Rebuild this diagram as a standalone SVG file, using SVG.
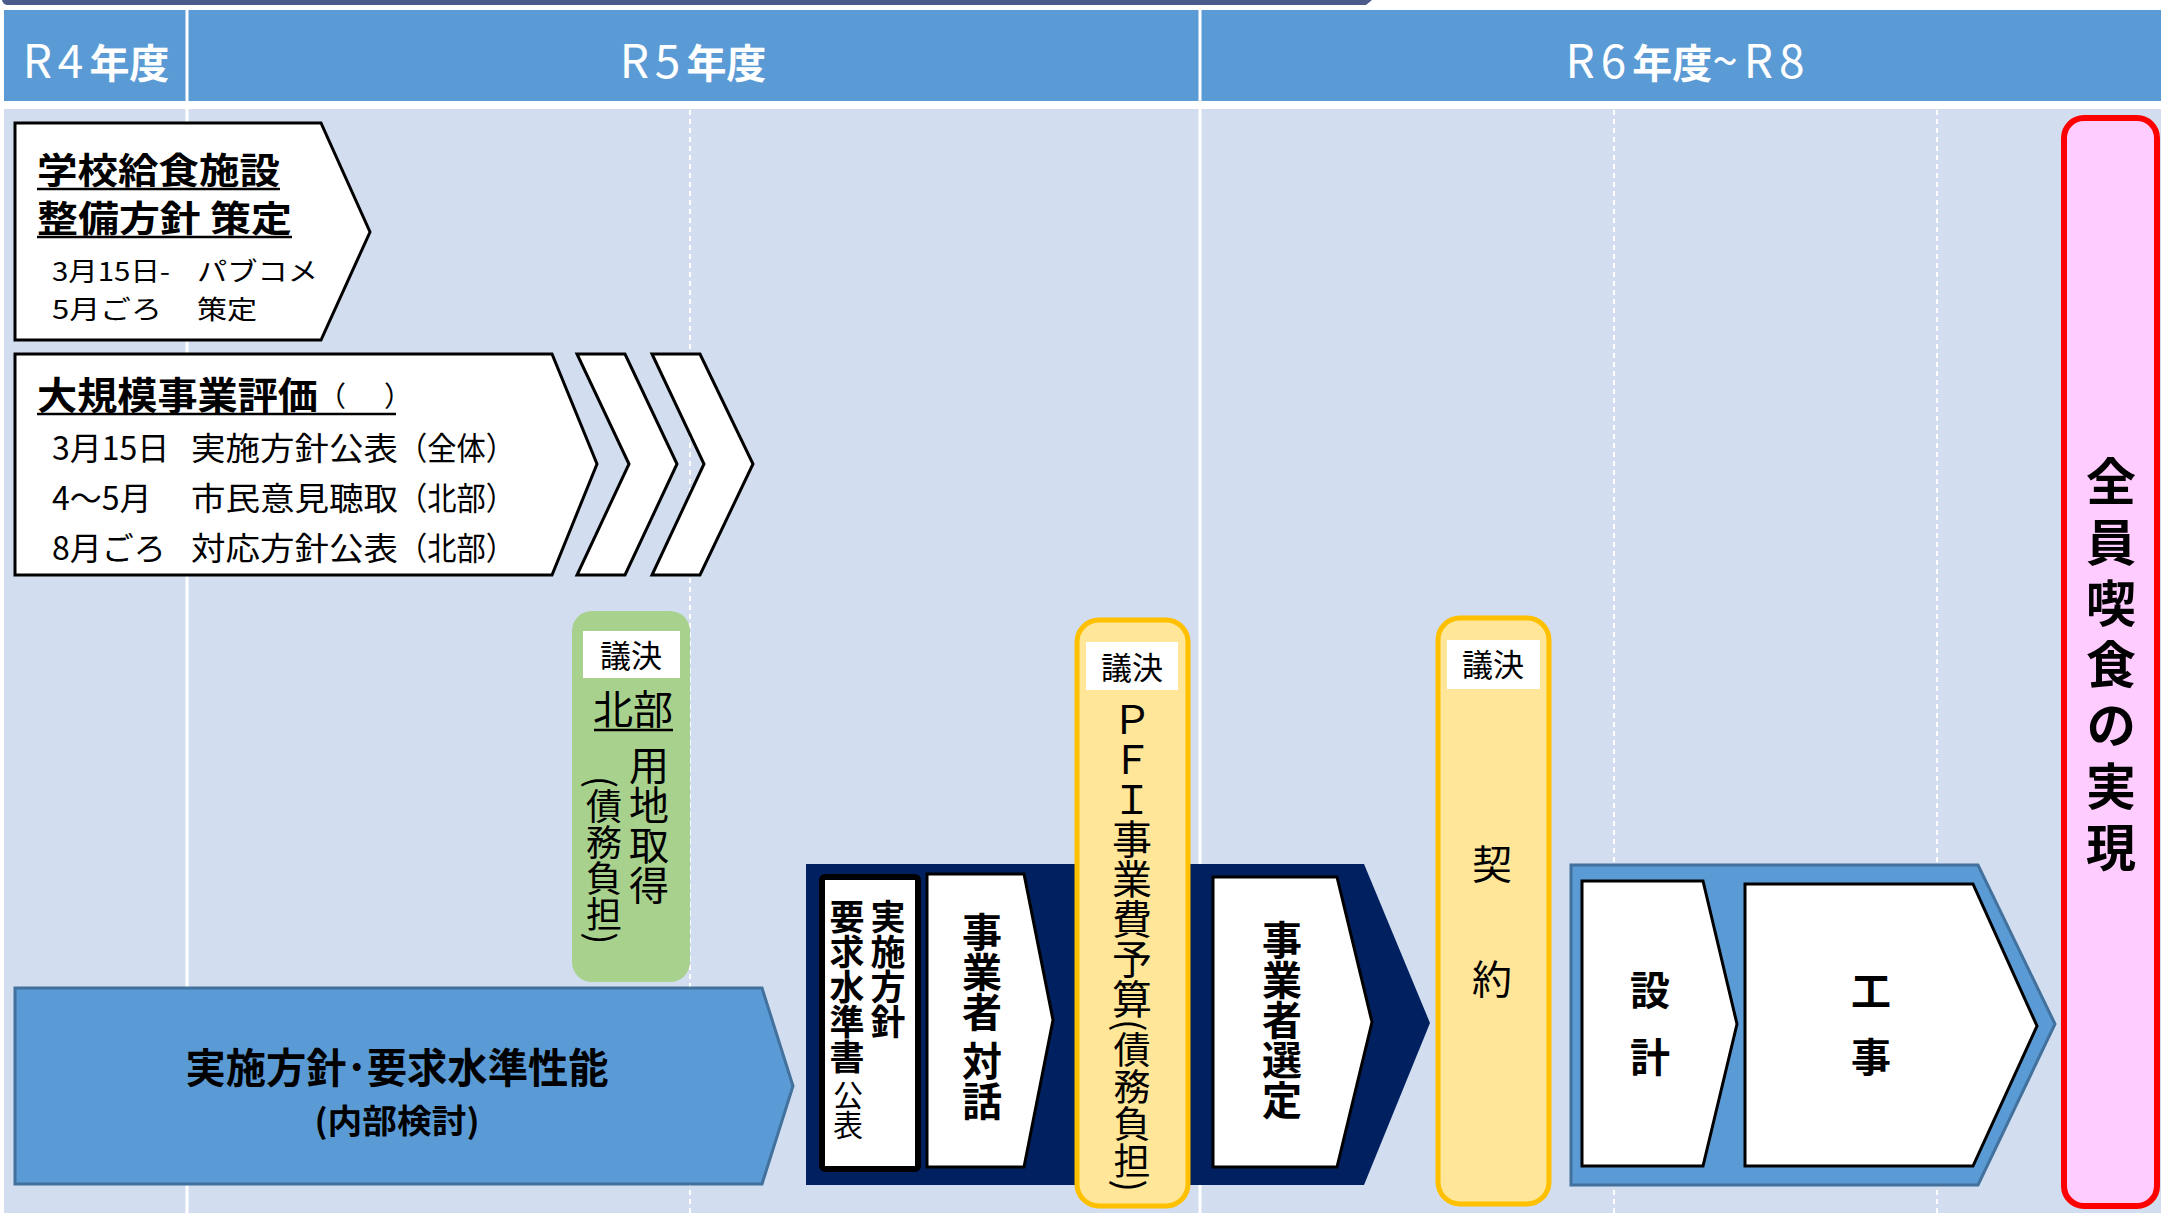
<svg xmlns="http://www.w3.org/2000/svg" width="2161" height="1213" viewBox="0 0 2161 1213">
<style>
text{font-family:'Noto Sans CJK JP','Noto Sans',sans-serif;fill:#000}
.hd{fill:#fff;text-anchor:middle}
.hl{font-size:46px;font-weight:400;letter-spacing:6px}
.hc{font-size:40px;font-weight:700}
.b{font-weight:700}
.v{writing-mode:vertical-rl}
.mid{text-anchor:middle}
.wb{fill:#fff;stroke:#000;stroke-width:3;stroke-linejoin:miter}
.lbl{fill:#fff}
.ul{stroke:#000;stroke-width:2.5}
.dot{stroke:#fff;stroke-width:2;stroke-dasharray:5 4}
.sol{stroke:#fff;stroke-width:3}
.yel{fill:#ffe699;stroke:#ffc000;stroke-width:5}
.blu{fill:#5b9bd5;stroke:#41719c;stroke-width:3}
</style>
<rect x="0" y="0" width="2161" height="1213" fill="#fff"/>
<path d="M2,0 H1372 L1366,5 H8 Q3,5 2,0 Z" fill="#4a5b8c"/>
<g id="header">
<rect x="4" y="10" width="2157" height="91" fill="#5b9bd5"/>
<rect x="4" y="109" width="2157" height="1104" fill="#d2ddef"/>
</g>
<g id="grid">
<line class="sol" x1="187" y1="10" x2="187" y2="1213"/>
<line class="sol" x1="1200" y1="10" x2="1200" y2="1213"/>
<line class="dot" x1="690" y1="101" x2="690" y2="1213"/>
<line class="dot" x1="1614" y1="101" x2="1614" y2="1213"/>
<line class="dot" x1="1937" y1="101" x2="1937" y2="1213"/>
</g>
<g id="header-labels">
<text class="hd" x="96" y="78"><tspan class="hl">R4</tspan><tspan class="hc">年度</tspan></text>
<text class="hd" x="693" y="78"><tspan class="hl">R5</tspan><tspan class="hc">年度</tspan></text>
<text class="hd" x="1688" y="78"><tspan class="hl">R6</tspan><tspan class="hc">年度</tspan><tspan class="hl">~R8</tspan></text>
</g>
<g id="policy">
<path class="wb" d="M15,123 L321,123 L370,232 L321,340 L15,340 Z"/>
<text class="b" x="37" y="184" font-size="36" textLength="243" lengthAdjust="spacingAndGlyphs">学校給食施設</text>
<line class="ul" x1="37" y1="189" x2="280" y2="189"/>
<text class="b" x="37" y="232" font-size="36" textLength="255" lengthAdjust="spacingAndGlyphs">整備方針 策定</text>
<line class="ul" x1="37" y1="237" x2="292" y2="237"/>
<text x="52" y="281" font-size="26" textLength="118" lengthAdjust="spacingAndGlyphs">3月15日-</text>
<text x="197" y="281" font-size="26" textLength="121" lengthAdjust="spacingAndGlyphs">パブコメ</text>
<text x="52" y="319" font-size="26" textLength="110" lengthAdjust="spacingAndGlyphs">5月ごろ</text>
<text x="197" y="319" font-size="26" textLength="60" lengthAdjust="spacingAndGlyphs">策定</text>
</g>
<g id="evaluation">
<path class="wb" d="M15,354 L552,354 L597,464 L552,575 L15,575 Z"/>
<text class="b" x="37" y="409" font-size="38" textLength="281" lengthAdjust="spacingAndGlyphs">大規模事業評価</text>
<text x="318" y="407" font-size="28" letter-spacing="5">（　）</text>
<line class="ul" x1="37" y1="414" x2="396" y2="414"/>
<text x="52" y="460" font-size="32">3月15日</text>
<text x="191" y="460" font-size="32" textLength="207" lengthAdjust="spacingAndGlyphs">実施方針公表</text>
<text x="398" y="460" font-size="32" textLength="117" lengthAdjust="spacingAndGlyphs">（全体）</text>
<text x="52" y="510" font-size="32">4～5月</text>
<text x="191" y="510" font-size="32" textLength="207" lengthAdjust="spacingAndGlyphs">市民意見聴取</text>
<text x="398" y="510" font-size="32" textLength="117" lengthAdjust="spacingAndGlyphs">（北部）</text>
<text x="52" y="560" font-size="32">8月ごろ</text>
<text x="191" y="560" font-size="32" textLength="207" lengthAdjust="spacingAndGlyphs">対応方針公表</text>
<text x="398" y="560" font-size="32" textLength="117" lengthAdjust="spacingAndGlyphs">（北部）</text>
</g>
<g id="chevrons">
<path class="wb" d="M577,354 L625,354 L677,464 L625,575 L577,575 L629,464 Z"/>
<path class="wb" d="M652,354 L700,354 L753,464 L700,575 L652,575 L704,464 Z"/>
</g>
<g id="land">
<rect x="572" y="611" width="118" height="371" rx="20" fill="#a9d18e"/>
<rect class="lbl" x="583" y="631" width="97" height="47"/>
<text class="mid" x="631" y="667" font-size="31">議決</text>
<text class="mid" x="633" y="724" font-size="40">北部</text>
<line class="ul" x1="594" y1="730" x2="673" y2="730" stroke-width="2"/>
<text class="v" x="649" y="745" font-size="40">用地取得</text>
<text class="v" x="604" y="776" font-size="36">(債務負担)</text>
</g>
<g id="internal">
<path class="blu" d="M15,988 L762,988 L793,1086 L762,1184 L15,1184 Z"/>
<text class="b mid" x="397" y="1083" font-size="41" textLength="423" lengthAdjust="spacingAndGlyphs">実施方針･要求水準性能</text>
<text class="b mid" x="397" y="1133" font-size="33" textLength="165" lengthAdjust="spacingAndGlyphs">(内部検討)</text>
</g>
<g id="procurement">
<path d="M806,864 L1364,864 L1430,1023 L1364,1185 L806,1185 Z" fill="#002060"/>
<rect x="822" y="877" width="96" height="292" rx="3" fill="#fff" stroke="#000" stroke-width="6"/>
<text class="v b" x="888" y="899" font-size="35">実施方針</text>
<text class="v b" x="847" y="899" font-size="35">要求水準書</text>
<text class="v" x="848" y="1080" font-size="30">公表</text>
<path class="wb" d="M927,874 L1024,874 L1053,1020 L1024,1167 L927,1167 Z"/>
<text class="v b" x="982" y="912" font-size="40">事業者 対話</text>
<path class="wb" d="M1213,877 L1337,877 L1372,1022 L1337,1167 L1213,1167 Z"/>
<text class="v b" x="1282" y="920" font-size="40">事業者選定</text>
</g>
<g id="pfi">
<rect class="yel" x="1077" y="620" width="111" height="586" rx="22"/>
<rect class="lbl" x="1086" y="642" width="92" height="48"/>
<text class="mid" x="1132" y="679" font-size="31">議決</text>
<text class="v" x="1132" y="699" font-size="40">ＰＦＩ事業費予算<tspan font-size="37">(債務負担)</tspan></text>
</g>
<g id="contract">
<rect class="yel" x="1438" y="618" width="111" height="586" rx="22"/>
<rect class="lbl" x="1447" y="640" width="93" height="49"/>
<text class="mid" x="1493" y="676" font-size="31">議決</text>
<text class="mid" x="1492" y="879" font-size="40">契</text>
<text class="mid" x="1492" y="994" font-size="40">約</text>
</g>
<g id="construction">
<path class="blu" d="M1571,865 L1978,865 L2055,1024 L1978,1185 L1571,1185 Z"/>
<path class="wb" d="M1582,881 L1703,881 L1737,1024 L1703,1166 L1582,1166 Z"/>
<text class="b mid" x="1650" y="1005" font-size="40">設</text>
<text class="b mid" x="1650" y="1072" font-size="40">計</text>
<path class="wb" d="M1745,884 L1973,884 L2037,1026 L1973,1166 L1745,1166 Z"/>
<text class="b mid" x="1871" y="1006" font-size="40">工</text>
<text class="b mid" x="1871" y="1072" font-size="40">事</text>
</g>
<g id="goal">
<rect x="2064" y="118" width="93" height="1088" rx="20" fill="#ffccff" stroke="#ff0000" stroke-width="6"/>
<text class="v b" x="2111" y="456" font-size="50" letter-spacing="11">全員喫食の実現</text>
</g>
</svg>
